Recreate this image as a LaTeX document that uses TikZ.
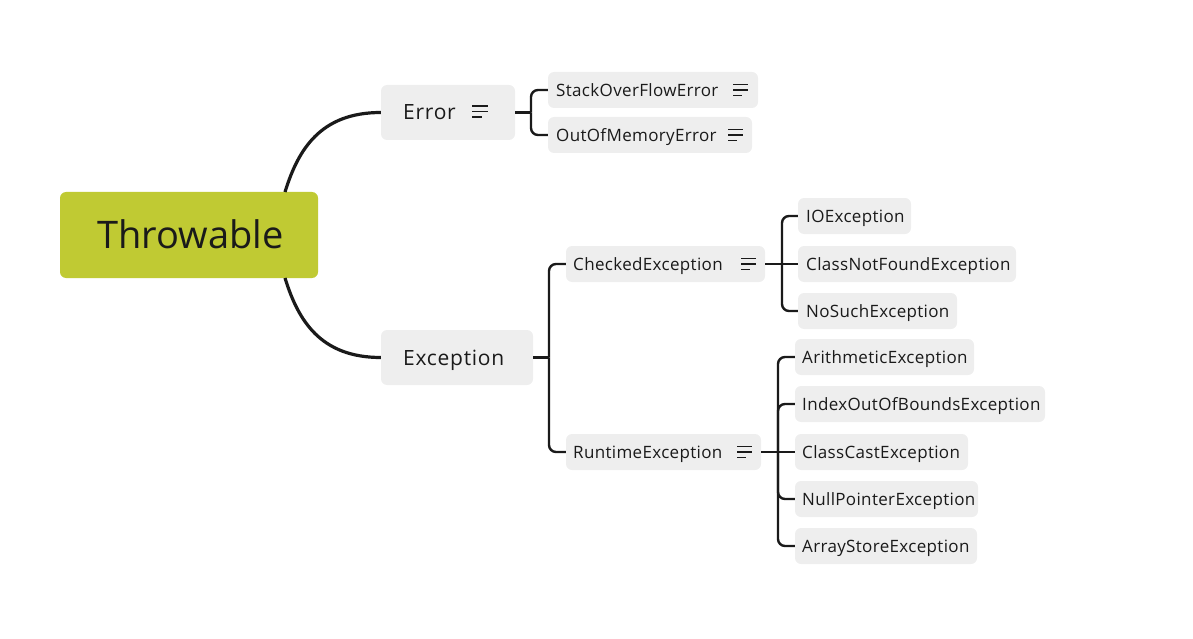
\documentclass[tikz,border=0pt]{standalone}
\usepackage{fontspec}
\setmainfont{Open Sans}[Ligatures=NoCommon]
\usetikzlibrary{fit}
\definecolor{lime}{HTML}{C0CA33}
\definecolor{boxgray}{HTML}{EEEEEE}
\definecolor{ink}{HTML}{1A1A1A}
\tikzset{
  rootbox/.style={fill=lime, rounded corners=6pt, inner sep=0pt},
  topicbox/.style={fill=boxgray, rounded corners=6pt, inner sep=0pt},
  leafbox/.style={fill=boxgray, rounded corners=6pt, inner sep=0pt},
  lbl/.style={anchor=base west, inner sep=0pt, text=ink, font=\fontsize{17}{18}\selectfont\addfontfeatures{LetterSpace=2}},
  toplbl/.style={anchor=base west, inner sep=0pt, text=ink, font=\fontsize{21}{24}\selectfont\addfontfeatures{LetterSpace=3.5}},
  rootlbl/.style={anchor=base west, inner sep=0pt, text=ink, font=\fontsize{38}{42}\selectfont},
  bigconn/.style={draw=ink, line width=3.2pt},
  conn/.style={draw=ink, line width=2.4pt, rounded corners=7pt},
  iconline/.style={draw=ink, line width=1.4pt},
}
\newcommand{\notesicon}[3]{% x, center y, length
  \draw[iconline] (#1,#2-5.5) -- ++(#3,0);
  \draw[iconline] (#1,#2) -- ++(#3,0);
  \draw[iconline] (#1,#2+5.5) -- ++(0.6*#3,0);
}
\begin{document}
\begin{tikzpicture}[x=1pt,y=-1pt]
\useasboundingbox (0,0) rectangle (1193,639);
% boxes
\node[rootbox, fit={(60,192) (318,278)}] (throw) {};
\node[topicbox, fit={(381,85) (515,140)}] (err) {};
\node[topicbox, fit={(381,330) (533,385)}] (exc) {};
\node[leafbox, fit={(548,72) (758,108)}] (sof) {};
\node[leafbox, fit={(548,117) (752,153)}] (oom) {};
\node[leafbox, fit={(566,246) (765,282)}] (chk) {};
\node[leafbox, fit={(566,434) (761,470)}] (rt) {};
\node[leafbox, fit={(798,198) (911,234)}] (io) {};
\node[leafbox, fit={(798,246) (1016,282)}] (cnf) {};
\node[leafbox, fit={(798,293) (957,329)}] (nse) {};
\node[leafbox, fit={(795,339) (974,375)}] (ari) {};
\node[leafbox, fit={(795,386) (1045,422)}] (idx) {};
\node[leafbox, fit={(795,434) (968,470)}] (cce) {};
\node[leafbox, fit={(795,481) (978,517)}] (npe) {};
\node[leafbox, fit={(795,528) (977,564)}] (ase) {};
% labels
\node[rootlbl] (tthrow) at (97,248) {Throwable};
\node[toplbl] (terr) at (403,120) {Error};
\node[toplbl] (texc) at (403,365) {Exception};
\node[lbl] (tsof) at (556,96.5) {StackOverFlowError};
\node[lbl] (toom) at (556,141.5) {OutOfMemoryError};
\node[lbl] (tchk) at (573,270.5) {CheckedException};
\node[lbl] (trt) at (573,458.5) {RuntimeException};
\node[lbl] (tio) at (806,222.5) {IOException};
\node[lbl] (tcnf) at (806,270.5) {ClassNotFoundException};
\node[lbl] (tnse) at (806,317.5) {NoSuchException};
\node[lbl] (tari) at (802,363.5) {ArithmeticException};
\node[lbl] (tidx) at (802,410.5) {IndexOutOfBoundsException};
\node[lbl] (tcce) at (802,458.5) {ClassCastException};
\node[lbl] (tnpe) at (802,505.5) {NullPointerException};
\node[lbl] (tase) at (802,552.5) {ArrayStoreException};
% icons
\notesicon{472}{111.5}{16}
\notesicon{733}{90}{15}
\notesicon{728}{135}{15}
\notesicon{741}{264}{15}
\notesicon{737}{452}{15}
% root connectors
\coordinate (rtop) at (285,192);
\coordinate (rbot) at (285,278);
\draw[bigconn] (rtop) .. controls (298,150) and (320,112.5) .. (err.west);
\draw[bigconn] (rbot) .. controls (298,320) and (320,357.5) .. (exc.west);
% error children
\coordinate (ej) at (531,112.5);
\draw[conn] (err.east) -- (ej);
\draw[conn] (ej) |- (sof.west);
\draw[conn] (ej) |- (oom.west);
% exception children
\coordinate (xj) at (549,357.5);
\draw[conn] (exc.east) -- (xj);
\draw[conn] (xj) |- (chk.west);
\draw[conn] (xj) |- (rt.west);
% checked children
\coordinate (cj) at (782,264);
\draw[conn] (chk.east) -- (cnf.west);
\draw[conn] (cj) |- (io.west);
\draw[conn] (cj) |- (nse.west);
% runtime children
\coordinate (uj) at (778,452);
\draw[conn] (rt.east) -- (cce.west);
\draw[conn] (uj) |- (ari.west);
\draw[conn] (uj) |- (idx.west);
\draw[conn] (uj) |- (npe.west);
\draw[conn] (uj) |- (ase.west);
\end{tikzpicture}
\end{document}
